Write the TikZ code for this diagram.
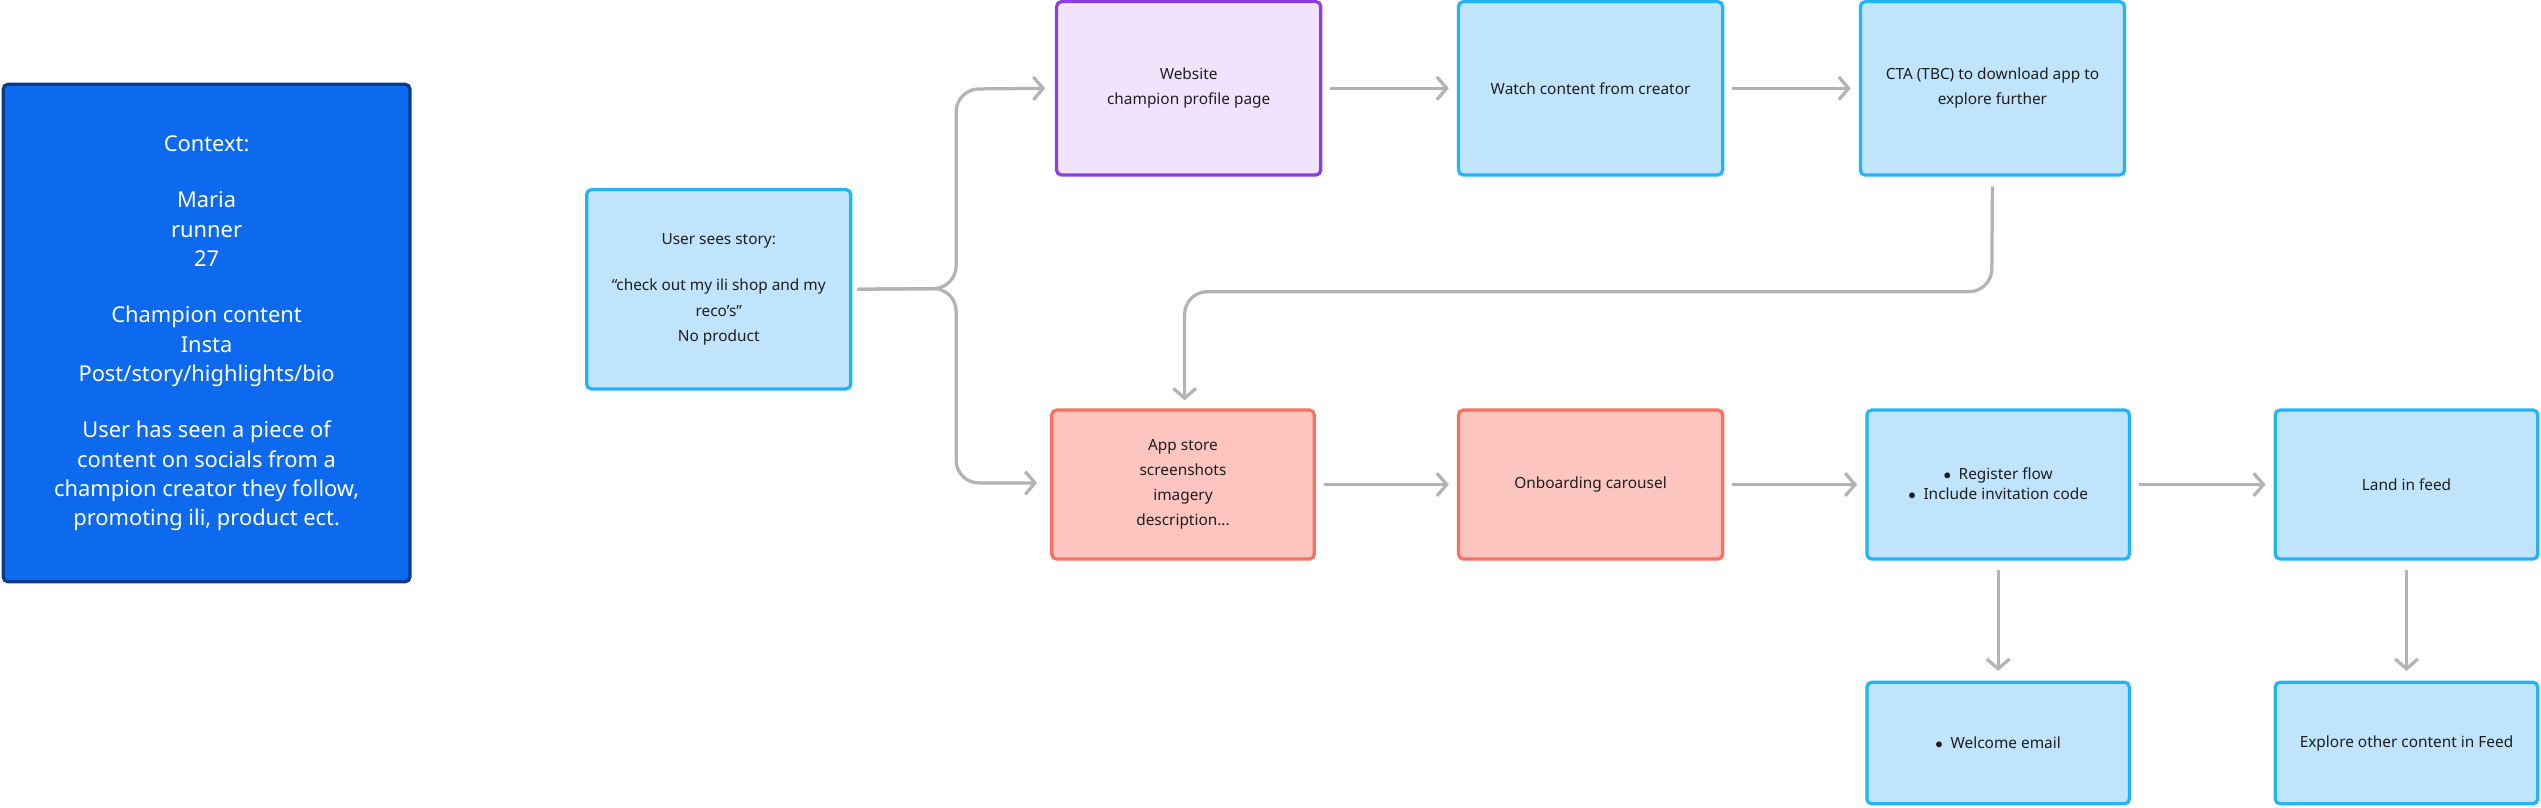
\documentclass[tikz,border=0pt]{standalone}
\usepackage{fontspec}
\setmainfont{Noto Sans}
\usetikzlibrary{arrows.meta}
\definecolor{ctxfill}{HTML}{0D6AEF}
\definecolor{ctxdraw}{HTML}{0A3A8A}
\definecolor{bfill}{HTML}{BFE4FC}
\definecolor{bdraw}{HTML}{22B4FA}
\definecolor{pfill}{HTML}{F1E3FE}
\definecolor{pdraw}{HTML}{8A3FE0}
\definecolor{rfill}{HTML}{FDC5C0}
\definecolor{rdraw}{HTML}{F97060}
\definecolor{arr}{HTML}{B3B3B3}
\definecolor{txt}{HTML}{1E1E1E}
\begin{document}
\begin{tikzpicture}[x=1pt,y=-1pt,
  box/.style={draw=bdraw,fill=bfill,line width=2pt,rounded corners=3pt,text=txt,font=\fontsize{9.5}{15.5}\selectfont,align=center},
  conn/.style={draw=arr,line width=2pt,-{Straight Barb[length=6pt,width=14pt,line width=2pt]},rounded corners=14pt}]
\useasboundingbox (0,0) rectangle (1568,498);
\def\bx#1#2#3#4#5#6#7{\node[box,#6,minimum width=#4-#2 pt,minimum height=#5-#3 pt,inner sep=0pt] (#1) at ({(#2+#4)/2},{(#3+#5)/2}) {#7};}
\bx{ctx}{2}{52}{253}{359}{draw=ctxdraw,fill=ctxfill,text=white,font=\fontsize{13.5}{18}\selectfont}{Context:\\[17pt]Maria\\runner\\27\\[17pt]Champion content\\Insta\\Post/story/highlights/bio\\[17pt]User has seen a piece of\\content on socials from a\\champion creator they follow,\\promoting ili, product ect.}
\bx{story}{362}{117}{525}{240}{}{User sees story:\\[13pt]“check out my ili shop and my\\reco’s”\\No product}
\bx{web}{652}{1}{815}{108}{draw=pdraw,fill=pfill}{Website\\champion profile page}
\bx{watch}{900}{1}{1063}{108}{}{Watch content from creator}
\bx{cta}{1148}{1}{1311}{108}{}{CTA (TBC) to download app to\\explore further}
\bx{app}{649}{253}{811}{345}{draw=rdraw,fill=rfill}{App store\\screenshots\\imagery\\description...}
\bx{onb}{900}{253}{1063}{345}{draw=rdraw,fill=rfill}{Onboarding carousel}
\bx{reg}{1152}{253}{1314}{345}{}{\begin{tabular}{@{}l@{}}$\bullet$\enspace Register flow\end{tabular}\\[-3pt]\begin{tabular}{@{}l@{}}$\bullet$\enspace Include invitation code\end{tabular}}
\bx{land}{1404}{253}{1566}{345}{}{Land in feed}
\bx{wel}{1152}{421}{1314}{496}{}{$\bullet$\enspace Welcome email}
\bx{exp}{1404}{421}{1566}{496}{}{Explore other content in Feed}
\draw[conn] ([xshift=3pt]story.east) -- (590,178) -- (590,55) -- ([xshift=-6pt]web.west);
\draw[conn] ([xshift=3pt]story.east) -- (590,178) -- (590,298) -- ([xshift=-8pt]app.west|-0,298);
\draw[conn] ([xshift=5pt]web.east) -- ([xshift=-5pt]watch.west);
\draw[conn] ([xshift=5pt]watch.east) -- ([xshift=-5pt]cta.west);
\draw[conn] ([yshift=-6pt]cta.south) -- (1229,180) -- (731,180) -- (731,247);
\draw[conn] ([xshift=5pt]app.east) -- ([xshift=-5pt]onb.west);
\draw[conn] ([xshift=5pt]onb.east) -- ([xshift=-5pt]reg.west);
\draw[conn] ([xshift=5pt]reg.east) -- ([xshift=-5pt]land.west);
\draw[conn] ([yshift=-6pt]reg.south) -- ([yshift=6pt]wel.north);
\draw[conn] ([yshift=-6pt]land.south) -- ([yshift=6pt]exp.north);
\end{tikzpicture}
\end{document}
